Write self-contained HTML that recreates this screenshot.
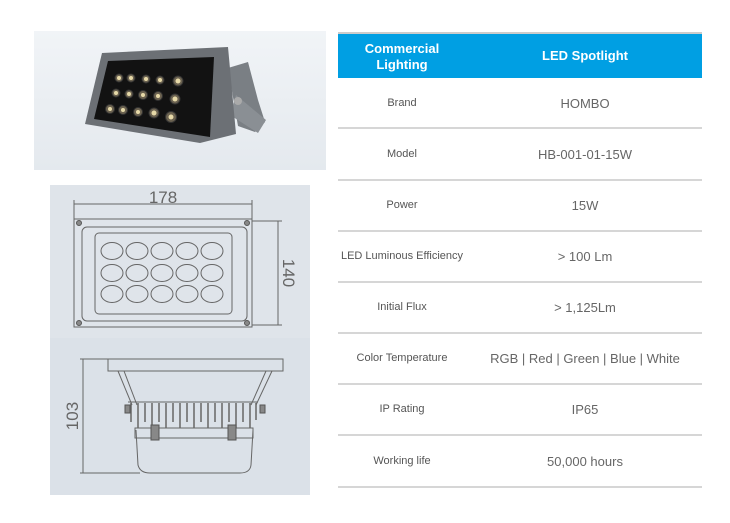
<!DOCTYPE html>
<html><head><meta charset="utf-8"><style>
body{margin:0;width:730px;height:523px;background:#fff;position:relative;overflow:hidden;font-family:"Liberation Sans",sans-serif}
.a{position:absolute}
.hl{position:absolute;left:338px;width:364px;height:2px;background:#d6d6d6}
.l{position:absolute;left:338px;width:128px;text-align:center;font-size:11px;color:#555}
.v{position:absolute;left:466px;width:238px;text-align:center;font-size:13px;color:#666}
</style></head><body>
<div class="a" style="left:34px;top:31px;width:292px;height:139px;background:linear-gradient(#f1f4f7,#e4e9ee)"></div>
<svg class="a" style="left:0;top:0" width="730" height="523">
<!-- photo lamp -->
<polygon points="228,68 248,62 258,100 265,122 255,132 238,126" fill="#7a7f84"/>
<polygon points="236,95 266,120 258,133 230,115" fill="#8a8f94"/>
<circle cx="238" cy="101" r="4" fill="#aaa"/>
<polygon points="102,53 228,47 236,134 200,143 85,124" fill="#6c7075"/>
<polygon points="108,61 214,57 210,137 94,119" fill="#121212"/>
<g fill="#6b6250" stroke="#333" stroke-width="1">
<circle cx="119" cy="78" r="4"/><circle cx="131" cy="78" r="4"/><circle cx="146" cy="79" r="4"/><circle cx="160" cy="80" r="4"/><circle cx="178" cy="81" r="5"/>
<circle cx="116" cy="93" r="4"/><circle cx="129" cy="94" r="4"/><circle cx="143" cy="95" r="4.5"/><circle cx="158" cy="96" r="4.5"/><circle cx="175" cy="99" r="5"/>
<circle cx="110" cy="109" r="4.5"/><circle cx="123" cy="110" r="4.5"/><circle cx="138" cy="112" r="4.5"/><circle cx="154" cy="113" r="5"/><circle cx="171" cy="117" r="5.5"/>
</g>
<g fill="#e6d9a8">
<circle cx="119" cy="78" r="2"/><circle cx="131" cy="78" r="2"/><circle cx="146" cy="79" r="2"/><circle cx="160" cy="80" r="2"/><circle cx="178" cy="81" r="2.5"/>
<circle cx="116" cy="93" r="2"/><circle cx="129" cy="94" r="2"/><circle cx="143" cy="95" r="2"/><circle cx="158" cy="96" r="2"/><circle cx="175" cy="99" r="2.5"/>
<circle cx="110" cy="109" r="2"/><circle cx="123" cy="110" r="2"/><circle cx="138" cy="112" r="2"/><circle cx="154" cy="113" r="2.5"/><circle cx="171" cy="117" r="2.5"/>
</g>
<!-- drawing bg -->
<rect x="50" y="185" width="260" height="153" fill="#dfe4ea"/>
<rect x="50" y="338" width="260" height="157" fill="#dbe1e8"/>
<g fill="none" stroke="#666" stroke-width="1">
<rect x="74" y="219" width="178" height="108"/>
<rect x="82" y="227" width="165" height="94" rx="5"/>
<rect x="95" y="233" width="137" height="81" rx="4"/>
<ellipse cx="112" cy="251" rx="11" ry="8.5"/><ellipse cx="137" cy="251" rx="11" ry="8.5"/><ellipse cx="162" cy="251" rx="11" ry="8.5"/><ellipse cx="187" cy="251" rx="11" ry="8.5"/><ellipse cx="212" cy="251" rx="11" ry="8.5"/>
<ellipse cx="112" cy="273" rx="11" ry="8.5"/><ellipse cx="137" cy="273" rx="11" ry="8.5"/><ellipse cx="162" cy="273" rx="11" ry="8.5"/><ellipse cx="187" cy="273" rx="11" ry="8.5"/><ellipse cx="212" cy="273" rx="11" ry="8.5"/>
<ellipse cx="112" cy="294" rx="11" ry="8.5"/><ellipse cx="137" cy="294" rx="11" ry="8.5"/><ellipse cx="162" cy="294" rx="11" ry="8.5"/><ellipse cx="187" cy="294" rx="11" ry="8.5"/><ellipse cx="212" cy="294" rx="11" ry="8.5"/>
<line x1="74" y1="204" x2="252" y2="204"/><line x1="74" y1="200" x2="74" y2="219"/><line x1="252" y1="200" x2="252" y2="219"/>
<line x1="278" y1="221" x2="278" y2="325"/><line x1="252" y1="221" x2="282" y2="221"/><line x1="252" y1="325" x2="282" y2="325"/>
<rect x="108" y="359" width="175" height="12"/>
<line x1="118" y1="371" x2="132" y2="405"/><line x1="124" y1="371" x2="137" y2="405"/>
<line x1="272" y1="371" x2="256" y2="405"/><line x1="266" y1="371" x2="251" y2="405"/>
<line x1="128" y1="402" x2="258" y2="402"/>
<path d="M136,430 L138,465 Q140,473 150,473 L240,473 Q250,473 251,465 L253,430"/>
<rect x="135" y="428" width="118" height="10"/>
<line x1="83" y1="359" x2="83" y2="473"/><line x1="80" y1="359" x2="108" y2="359"/><line x1="80" y1="473" x2="140" y2="473"/>
</g>
<g stroke="#666" stroke-width="1.5">
<line x1="131" y1="403" x2="131" y2="422"/><line x1="138" y1="403" x2="138" y2="428"/><line x1="145" y1="403" x2="145" y2="422"/><line x1="152" y1="403" x2="152" y2="428"/><line x1="159" y1="403" x2="159" y2="422"/><line x1="166" y1="403" x2="166" y2="428"/><line x1="173" y1="403" x2="173" y2="422"/><line x1="180" y1="403" x2="180" y2="428"/><line x1="187" y1="403" x2="187" y2="422"/><line x1="194" y1="403" x2="194" y2="428"/><line x1="201" y1="403" x2="201" y2="422"/><line x1="208" y1="403" x2="208" y2="428"/><line x1="215" y1="403" x2="215" y2="422"/><line x1="222" y1="403" x2="222" y2="428"/><line x1="229" y1="403" x2="229" y2="422"/><line x1="236" y1="403" x2="236" y2="428"/><line x1="243" y1="403" x2="243" y2="422"/><line x1="250" y1="403" x2="250" y2="428"/><line x1="256" y1="403" x2="256" y2="420"/>
</g>
<g fill="#888" stroke="#555"><circle cx="79" cy="223" r="2.5"/><circle cx="247" cy="223" r="2.5"/><circle cx="79" cy="323" r="2.5"/><circle cx="247" cy="323" r="2.5"/>
<rect x="125" y="405" width="5" height="8"/><rect x="260" y="405" width="5" height="8"/><rect x="151" y="425" width="8" height="15"/><rect x="228" y="425" width="8" height="15"/></g>
<g fill="#666" font-family="Liberation Sans" font-size="17">
<text x="163" y="203" text-anchor="middle">178</text>
<text transform="translate(283,273) rotate(90)" text-anchor="middle">140</text>
<text transform="translate(78,416) rotate(-90)" text-anchor="middle">103</text>
</g>
</svg>
<div class="a" style="left:338px;top:32px;width:364px;height:2px;background:#ccc"></div>
<div class="a" style="left:338px;top:34px;width:364px;height:44px;background:#009fe3"></div>
<div class="a" style="left:338px;top:41px;width:128px;text-align:center;color:#fff;font-weight:bold;font-size:13px;line-height:16px">Commercial<br>Lighting</div>
<div class="a" style="left:466px;top:48px;width:238px;text-align:center;color:#fff;font-weight:bold;font-size:13px">LED Spotlight</div>
<div class="hl" style="top:127px"></div><div class="hl" style="top:179px"></div><div class="hl" style="top:230px"></div><div class="hl" style="top:281px"></div><div class="hl" style="top:332px"></div><div class="hl" style="top:383px"></div><div class="hl" style="top:434px"></div><div class="hl" style="top:486px"></div>
<div class="l" style="top:97px">Brand</div><div class="v" style="top:96px">HOMBO</div>
<div class="l" style="top:148px">Model</div><div class="v" style="top:147px">HB-001-01-15W</div>
<div class="l" style="top:199px">Power</div><div class="v" style="top:198px">15W</div>
<div class="l" style="top:250px">LED Luminous Efficiency</div><div class="v" style="top:249px">&gt; 100 Lm</div>
<div class="l" style="top:301px">Initial Flux</div><div class="v" style="top:300px">&gt; 1,125Lm</div>
<div class="l" style="top:352px">Color Temperature</div><div class="v" style="top:351px">RGB | Red | Green | Blue | White</div>
<div class="l" style="top:403px">IP Rating</div><div class="v" style="top:402px">IP65</div>
<div class="l" style="top:455px">Working life</div><div class="v" style="top:454px">50,000 hours</div>
</body></html>
